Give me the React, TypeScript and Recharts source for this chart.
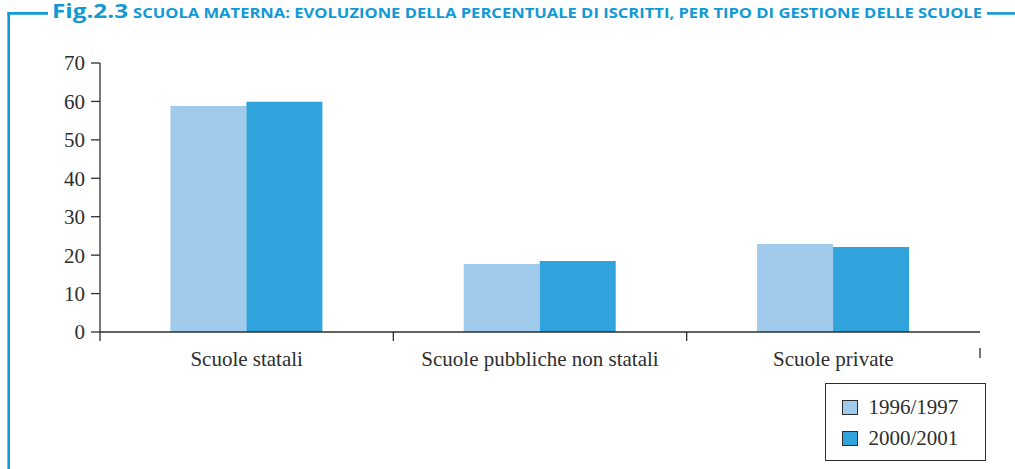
import React from 'react';
import { BarChart, Bar, XAxis, YAxis, Legend } from 'recharts';

const categories = ['Scuole statali', 'Scuole pubbliche non statali', 'Scuole private'];
const series1996 = [58.8, 17.7, 22.9];
const series2000 = [59.9, 18.5, 22.1];
const seriesNames = ['1996/1997', '2000/2001'];
const yTicks = [0, 10, 20, 30, 40, 50, 60, 70];
const titleFig = 'Fig.2.3';
const titleText = 'SCUOLA MATERNA: EVOLUZIONE DELLA PERCENTUALE DI ISCRITTI, PER TIPO DI GESTIONE DELLE SCUOLE';

const data = categories.map((name, i) => ({ name, a: series1996[i], b: series2000[i] }));

const W = 1015;
const H = 469;
const MARGIN = { top: 63, right: 35, bottom: 107, left: 0 };
const Y_W = 100;
const PLOT_W = W - MARGIN.left - MARGIN.right - Y_W;
const BAND = PLOT_W / categories.length;

const SERIF = '"Liberation Serif", "Times New Roman", serif';
const SANS = '"Open Sans", "DejaVu Sans", sans-serif';
const INK = '#2e2e2e';
const BLUE = '#1199d6';
const C1 = '#a0cbec';
const C2 = '#30a3dc';

const XTick = (props: any) => {
  const { x, y, payload, index } = props;
  const half = payload && payload.offset ? payload.offset : BAND / 2;
  const last = index === categories.length - 1;
  return (
    <g>
      <line x1={x - half} x2={x - half} y1={y} y2={y + 9} stroke={INK} strokeWidth={1.3} />
      {last && <line x1={x + half} x2={x + half} y1={y + 16} y2={y + 26} stroke={INK} strokeWidth={1.3} />}
      <text x={x} y={y + 34} textAnchor="middle" fill={INK} fontSize={21} fontFamily={SERIF}>
        {payload.value}
      </text>
    </g>
  );
};

const LegendBox = (props: any) => {
  const payload = props.payload || [];
  return (
    <div
      style={{
        width: 161,
        height: 78,
        boxSizing: 'border-box',
        border: `1.5px solid ${INK}`,
        background: '#fff',
        paddingTop: 7.5,
        paddingLeft: 15.5,
        fontFamily: SERIF,
        fontSize: 21,
        color: INK,
      }}
    >
      {payload.map((p: any) => (
        <div key={p.value} style={{ display: 'flex', alignItems: 'center', height: 31, lineHeight: '31px' }}>
          <span
            style={{
              display: 'inline-block',
              width: 16,
              height: 15,
              boxSizing: 'border-box',
              border: `1px solid ${INK}`,
              background: p.color,
              marginRight: 11,
            }}
          />
          <span>{p.value}</span>
        </div>
      ))}
    </div>
  );
};

export default function App() {
  return (
    <div style={{ position: 'absolute', left: 0, top: 0, width: W, height: H, background: '#fff' }}>
      <BarChart width={W} height={H} data={data} margin={MARGIN} barCategoryGap="24%" barGap={0}>
        <XAxis
          dataKey="name"
          type="category"
          height={30}
          axisLine={{ stroke: INK, strokeWidth: 1.3 }}
          tickLine={false}
          tickSize={0}
          tickMargin={0}
          interval={0}
          tick={<XTick />}
        />
        <YAxis
          type="number"
          width={Y_W}
          domain={[0, 70]}
          ticks={yTicks}
          interval={0}
          axisLine={{ stroke: INK, strokeWidth: 1.3 }}
          tickLine={{ stroke: INK, strokeWidth: 1.3 }}
          tickSize={9}
          tickMargin={6}
          tick={{ fill: INK, fontSize: 21, fontFamily: SERIF }}
        />
        <Legend
          layout="horizontal"
          align="center"
          verticalAlign="middle"
          content={<LegendBox />}
          wrapperStyle={{ left: 825, top: 383, bottom: 'auto', width: 161, height: 78 }}
        />
        <Bar dataKey="a" name={seriesNames[0]} fill={C1} isAnimationActive={false} />
        <Bar dataKey="b" name={seriesNames[1]} fill={C2} isAnimationActive={false} />
      </BarChart>
      <svg
        width={W}
        height={H}
        style={{ position: 'absolute', left: 0, top: 0, pointerEvents: 'none' }}
      >
        <line x1={8.7} x2={8.7} y1={12.2} y2={H} stroke={BLUE} strokeWidth={2.6} />
        <line x1={7.4} x2={48} y1={13.4} y2={13.4} stroke={BLUE} strokeWidth={2.6} />
        <line x1={987} x2={W} y1={13.4} y2={13.4} stroke={BLUE} strokeWidth={2.6} />
        <text
          x={52}
          y={17.5}
          fill={BLUE}
          fontFamily={SANS}
          fontWeight={700}
          fontSize={20}
          textLength={76}
          lengthAdjust="spacingAndGlyphs"
        >
          {titleFig}
        </text>
        <text
          x={133}
          y={17.5}
          fill={BLUE}
          fontFamily={SANS}
          fontWeight={700}
          fontSize={15}
          textLength={849}
          lengthAdjust="spacingAndGlyphs"
        >
          {titleText}
        </text>
      </svg>
    </div>
  );
}
